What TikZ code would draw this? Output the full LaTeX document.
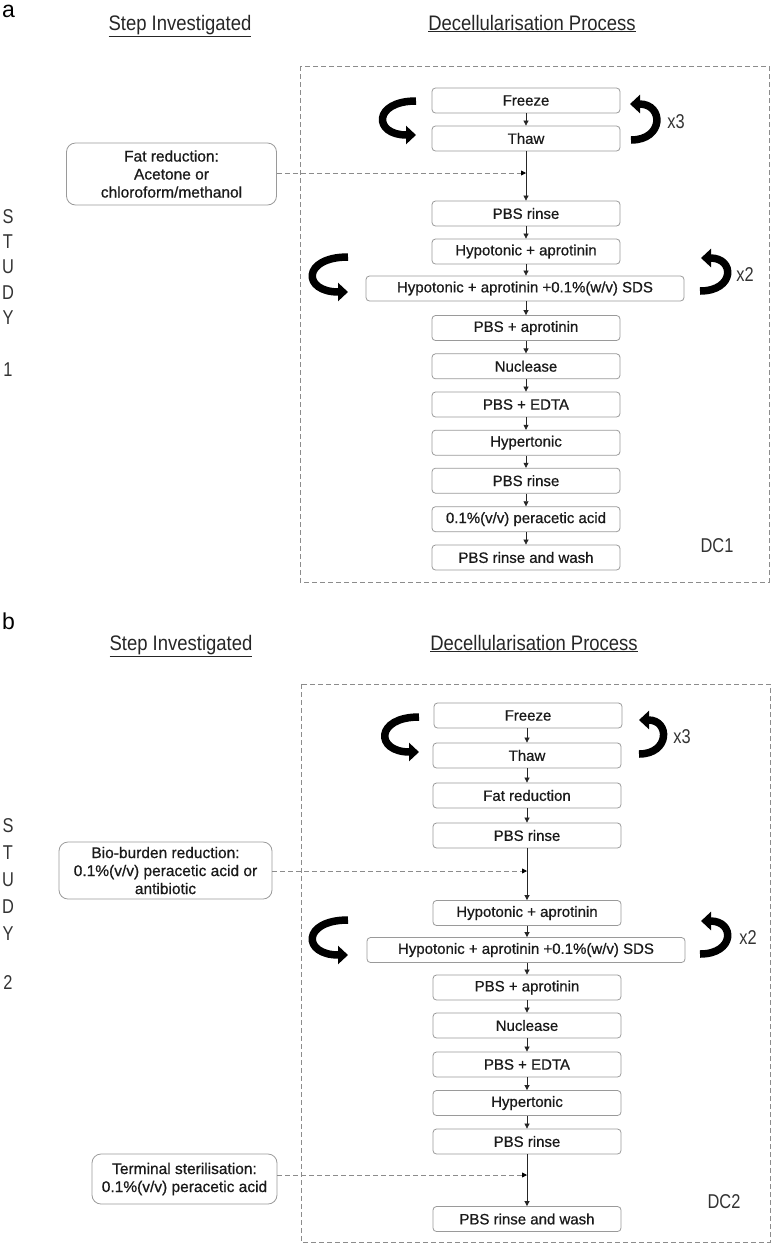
\documentclass[tikz,border=0pt]{standalone}
\usepackage{fontspec}
\setmainfont{Liberation Sans}
\newfontfamily\narrowfont[FakeStretch=0.82]{Liberation Sans}
\newfontfamily\headfont[FakeStretch=0.88]{Liberation Sans}
\newfontfamily\boxfont[FakeBold=0.7]{Liberation Sans}
\usetikzlibrary{arrows.meta}
\definecolor{boxgray}{HTML}{9A9A9A}
\definecolor{dashgray}{HTML}{8C8C8C}
\definecolor{txt}{HTML}{1A1A1A}
\begin{document}
\begin{tikzpicture}[x=1pt,y=-1pt,
  stepbox/.style={draw=boxgray, line width=0.8pt, rounded corners=3.5pt, minimum height=25pt, minimum width=188pt, inner sep=0pt, text=txt, font=\boxfont\fontsize{15}{18}\selectfont},
  leftbox/.style={draw=boxgray, line width=0.8pt, rounded corners=9pt, align=center, inner sep=0pt, text=txt, font=\boxfont\fontsize{15.5}{18}\selectfont},
  flow/.style={-{Triangle[length=5pt,width=5pt]}, line width=0.7pt, draw=black!85},
  probe/.style={draw=dashgray, line width=0.8pt, dash pattern=on 5pt off 3pt, -{Triangle[length=5pt,width=5pt,color=black]}},
  frame/.style={draw=dashgray, line width=0.8pt, dash pattern=on 5pt off 3pt},
  heading/.style={font=\headfont\fontsize{21}{24}\selectfont, text=black!85, inner sep=0pt},
  side/.style={font=\narrowfont\fontsize{20}{22}\selectfont, text=black!80, inner sep=0pt},
  loop/.style={line width=7.5pt, -{Triangle[length=10pt,width=18pt]}, draw=black},
  panel/.style={font=\fontsize{23}{26}\selectfont, inner sep=0pt, anchor=base west}
]
\useasboundingbox (0,0) rectangle (777,1248);

% ---------------- Panel a ----------------
\node[panel] (la) at (2,17) {a};
\node[heading, anchor=base] (ha1) at (180,30) {\underline{Step Investigated}};
\node[heading, anchor=base] (ha2) at (532,30) {\underline{Decellularisation Process}};
\draw[frame] (300,66) rectangle (769,582);

\node[stepbox] (f1) at (526,100.5) {Freeze};
\node[stepbox] (t1) at (526,138.5) {Thaw};
\node[stepbox] (p1) at (526,213.5) {PBS rinse};
\node[stepbox] (h1) at (526,251.5) {Hypotonic + aprotinin};
\node[stepbox, minimum width=318pt] (s1) at (525,288.5) {Hypotonic + aprotinin +0.1\%(w/v) SDS};
\node[stepbox] (a1) at (526,328) {PBS + aprotinin};
\node[stepbox] (n1) at (526,366.3) {Nuclease};
\node[stepbox] (e1) at (526,404.5) {PBS + EDTA};
\node[stepbox] (y1) at (526,442.7) {Hypertonic};
\node[stepbox] (r1) at (526,480.7) {PBS rinse};
\node[stepbox] (c1) at (526,519.2) {0.1\%(v/v) peracetic acid};
\node[stepbox] (w1) at (526,557.5) {PBS rinse and wash};

\draw[flow] (f1) -- (t1);
\draw[flow] (t1) -- (p1);
\draw[flow] (p1) -- (h1);
\draw[flow] (h1) -- (s1.north -| h1);
\draw[flow] (s1.south -| h1) -- (a1);
\draw[flow] (a1) -- (n1);
\draw[flow] (n1) -- (e1);
\draw[flow] (e1) -- (y1);
\draw[flow] (y1) -- (r1);
\draw[flow] (r1) -- (c1);
\draw[flow] (c1) -- (w1);

\node[leftbox, minimum width=210pt, minimum height=62pt] (fat) at (171.5,174) {Fat reduction:\\Acetone or\\chloroform/methanol};
\coordinate (j1) at (526,173);
\draw[probe] (fat.east |- j1) -- (j1);

\draw[loop] (416,101) .. controls (373,101) and (373,135) .. (416,135);
\draw[loop] (631,140) .. controls (664,140) and (664,104) .. (630,104);
\node[side] (x3a) at (676,122) {x3};
\draw[loop] (348,257) .. controls (302,257) and (302,292) .. (348,292);
\draw[loop] (700,291) .. controls (735,291) and (735,258) .. (701,258);
\node[side] (x2a) at (745,275) {x2};
\node[side] (dc1) at (717,546) {DC1};

\node[side] (sa1) at (8,217) {S};
\node[side] (sa2) at (8,242) {T};
\node[side] (sa3) at (8,267) {U};
\node[side] (sa4) at (8,293) {D};
\node[side] (sa5) at (8,318) {Y};
\node[side] (sa6) at (8,370) {1};

% ---------------- Panel b ----------------
\node[panel] (lb) at (2,629) {b};
\node[heading, anchor=base] (hb1) at (181,650) {\underline{Step Investigated}};
\node[heading, anchor=base] (hb2) at (534,650) {\underline{Decellularisation Process}};
\draw[frame] (301,684) rectangle (770,1242);

\node[stepbox] (f2) at (528,715.5) {Freeze};
\node[stepbox] (t2) at (527,755.5) {Thaw};
\node[stepbox] (fr2) at (527,795.5) {Fat reduction};
\node[stepbox] (p2) at (527,835.5) {PBS rinse};
\node[stepbox] (h2) at (527,913) {Hypotonic + aprotinin};
\node[stepbox, minimum width=318pt] (s2) at (526,950) {Hypotonic + aprotinin +0.1\%(w/v) SDS};
\node[stepbox] (a2) at (527,987.5) {PBS + aprotinin};
\node[stepbox] (n2) at (527,1025.5) {Nuclease};
\node[stepbox] (e2) at (527,1064.5) {PBS + EDTA};
\node[stepbox] (y2) at (527,1103) {Hypertonic};
\node[stepbox] (r2) at (527,1141.5) {PBS rinse};
\node[stepbox] (w2) at (527,1219) {PBS rinse and wash};

\draw[flow] (f2.south -| t2) -- (t2);
\draw[flow] (t2) -- (fr2);
\draw[flow] (fr2) -- (p2);
\draw[flow] (p2) -- (h2);
\draw[flow] (h2) -- (s2.north -| h2);
\draw[flow] (s2.south -| h2) -- (a2);
\draw[flow] (a2) -- (n2);
\draw[flow] (n2) -- (e2);
\draw[flow] (e2) -- (y2);
\draw[flow] (y2) -- (r2);
\draw[flow] (r2) -- (w2);

\node[leftbox, minimum width=213pt, minimum height=57pt] (bio) at (165.5,870.5) {Bio-burden reduction:\\0.1\%(v/v) peracetic acid or\\antibiotic};
\coordinate (j2) at (527,871);
\draw[probe] (bio.east |- j2) -- (j2);

\node[leftbox, minimum width=185pt, minimum height=50pt] (term) at (184.5,1179) {Terminal sterilisation:\\0.1\%(v/v) peracetic acid};
\coordinate (j3) at (527,1175);
\draw[probe] (term.east |- j3) -- (j3);

\draw[loop] (419,717) .. controls (375,717) and (375,752) .. (419,752);
\draw[loop] (639,754) .. controls (670,754) and (670,720) .. (639,720);
\node[side] (x3b) at (682,737) {x3};
\draw[loop] (348,920) .. controls (302,920) and (302,955) .. (348,955);
\draw[loop] (700,954) .. controls (735,954) and (735,921) .. (701,921);
\node[side] (x2b) at (748,938) {x2};
\node[side] (dc2) at (724,1202) {DC2};

\node[side] (sb1) at (8,826) {S};
\node[side] (sb2) at (8,853) {T};
\node[side] (sb3) at (8,880) {U};
\node[side] (sb4) at (8,907) {D};
\node[side] (sb5) at (8,934) {Y};
\node[side] (sb6) at (8,983) {2};
\end{tikzpicture}
\end{document}
